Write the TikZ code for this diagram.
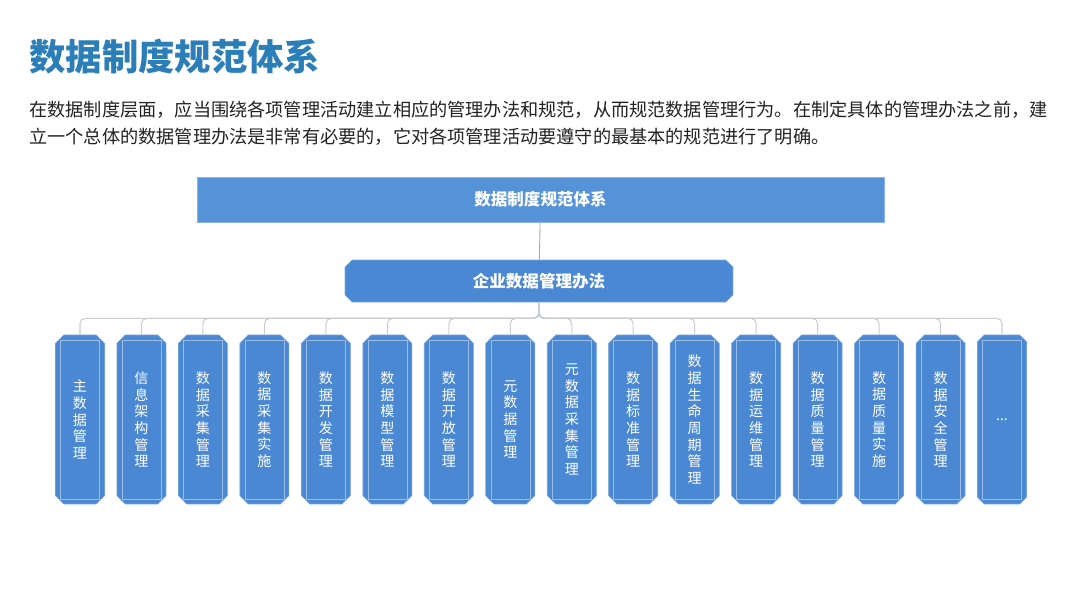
\documentclass[tikz,border=0pt]{standalone}
\usepackage{fontspec}
\setmainfont{Noto Sans CJK SC}
\usetikzlibrary{shapes.misc}

\definecolor{titleblue}{HTML}{2B7EB8}
\definecolor{sysblue}{HTML}{5592D8}
\definecolor{cellblue}{HTML}{4A88D3}
\definecolor{linkgray}{HTML}{C9CDD2}
\definecolor{textdark}{HTML}{222222}

\begin{document}
\begin{tikzpicture}[x=0.02cm, y=-0.02cm,
  sysbox/.style={rectangle, fill=sysblue, draw=sysblue!70!white, line width=0.4pt,
    minimum width=13.74cm, minimum height=0.9cm, text=white,
    font=\fontsize{9.4}{11}\selectfont\bfseries},
  lawbox/.style={chamfered rectangle, chamfered rectangle xsep=2pt, chamfered rectangle ysep=2pt,
    fill=cellblue, draw=cellblue!70!white, line width=0.4pt,
    minimum width=7.76cm, minimum height=0.84cm, text=white,
    font=\fontsize{9.4}{11}\selectfont\bfseries},
  cell/.style={chamfered rectangle, chamfered rectangle xsep=2.4pt, chamfered rectangle ysep=2.4pt,
    fill=cellblue, draw=cellblue!80!white, line width=0.4pt,
    minimum width=0.98cm, minimum height=3.38cm, inner sep=1pt, align=center, text=white,
    font=\fontsize{8}{9.5}\selectfont,
    path picture={\draw[cellblue!55!white, line width=0.3pt]
      ([shift={(0.1cm,-0.1cm)}]path picture bounding box.north west) rectangle
      ([shift={(-0.1cm,0.1cm)}]path picture bounding box.south east);}},
  sysline/.style={draw=gray!70, line width=0.5pt},
  busline/.style={draw=linkgray, line width=0.6pt, rounded corners=3pt}]
  \useasboundingbox (0,0) rectangle (1080,606);

  % Heading and introduction
  \node[anchor=west, inner sep=0, text=titleblue, font=\fontsize{20.7}{24}\selectfont\bfseries]
    (title) at (29,57) {数据制度规范体系};
  \node[anchor=west, inner sep=0, align=left, text=textdark, font=\fontsize{10.35}{15.3}\selectfont]
    (intro) at (29,123.5) {在数据制度层面，应当围绕各项管理活动建立相应的管理办法和规范，从而规范数据管理行为。在制定具体的管理办法之前，建\\
    立一个总体的数据管理办法是非常有必要的，它对各项管理活动要遵守的最基本的规范进行了明确。};

  % Upper levels
  \node[sysbox] (sys) at (540.5,199.5) {数据制度规范体系};
  \node[lawbox] (law) at (539,281) {企业数据管理办法};

  % Regulation cells
  \def\celly{419.5}
  \node[cell] (c1) at (80,\celly) {主\\数\\据\\管\\理};
  \node[cell] (c2) at (141.5,\celly) {信\\息\\架\\构\\管\\理};
  \node[cell] (c3) at (202.9,\celly) {数\\据\\采\\集\\管\\理};
  \node[cell] (c4) at (264.4,\celly) {数\\据\\采\\集\\实\\施};
  \node[cell] (c5) at (325.9,\celly) {数\\据\\开\\发\\管\\理};
  \node[cell] (c6) at (387.4,\celly) {数\\据\\模\\型\\管\\理};
  \node[cell] (c7) at (448.8,\celly) {数\\据\\开\\放\\管\\理};
  \node[cell] (c8) at (510.3,\celly) {元\\数\\据\\管\\理};
  \node[cell] (c9) at (571.8,\celly) {元\\数\\据\\采\\集\\管\\理};
  \node[cell] (c10) at (633.2,\celly) {数\\据\\标\\准\\管\\理};
  \node[cell] (c11) at (694.7,\celly) {数\\据\\生\\命\\周\\期\\管\\理};
  \node[cell] (c12) at (756.2,\celly) {数\\据\\运\\维\\管\\理};
  \node[cell] (c13) at (817.6,\celly) {数\\据\\质\\量\\管\\理};
  \node[cell] (c14) at (879.1,\celly) {数\\据\\质\\量\\实\\施};
  \node[cell] (c15) at (940.6,\celly) {数\\据\\安\\全\\管\\理};
  \node[cell] (c16) at (1002,\celly) {...};

  % Connectors
  \draw[sysline] (sys) -- (law);
  \draw[busline] (law.south) -- ++(0,16) -| (c1.north);
  \draw[busline] (law.south) -- ++(0,16) -| (c2.north);
  \draw[busline] (law.south) -- ++(0,16) -| (c3.north);
  \draw[busline] (law.south) -- ++(0,16) -| (c4.north);
  \draw[busline] (law.south) -- ++(0,16) -| (c5.north);
  \draw[busline] (law.south) -- ++(0,16) -| (c6.north);
  \draw[busline] (law.south) -- ++(0,16) -| (c7.north);
  \draw[busline] (law.south) -- ++(0,16) -| (c8.north);
  \draw[busline] (law.south) -- ++(0,16) -| (c9.north);
  \draw[busline] (law.south) -- ++(0,16) -| (c10.north);
  \draw[busline] (law.south) -- ++(0,16) -| (c11.north);
  \draw[busline] (law.south) -- ++(0,16) -| (c12.north);
  \draw[busline] (law.south) -- ++(0,16) -| (c13.north);
  \draw[busline] (law.south) -- ++(0,16) -| (c14.north);
  \draw[busline] (law.south) -- ++(0,16) -| (c15.north);
  \draw[busline] (law.south) -- ++(0,16) -| (c16.north);
\end{tikzpicture}
\end{document}
